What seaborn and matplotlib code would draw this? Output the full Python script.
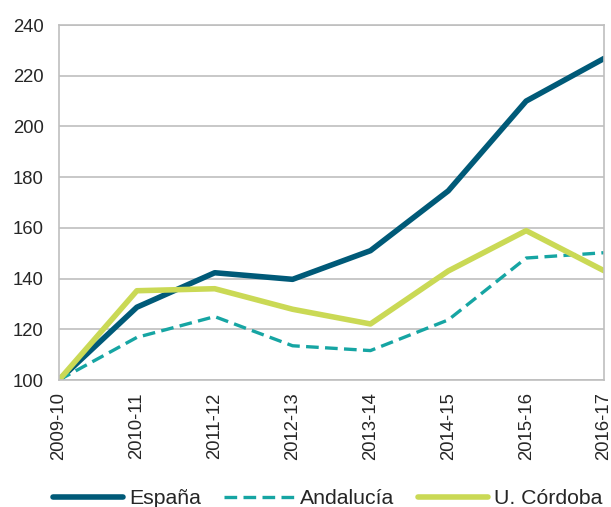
#Line chart of enrolment index (2009-10 = 100) for España, Andalucía and U. Córdoba
import pandas as pd
import matplotlib.pyplot as plt
import seaborn as sns

sns.set_style("white")
plt.rcParams['font.family'] = ['Liberation Sans', 'DejaVu Sans']

#Data
cursos = ["2009-10", "2010-11", "2011-12", "2012-13", "2013-14", "2014-15", "2015-16", "2016-17"]
espana = [100, 128.7, 142.3, 139.7, 151, 174.6, 210, 226.8]
andalucia = [100, 116.8, 125, 113.5, 111.6, 123.7, 148.1, 150.2]
cordoba = [100, 135.2, 136, 127.9, 122.1, 143, 158.9, 143.1]

series = ["España", "Andalucía", "U. Córdoba"]
colors = {"España": "#005a78", "Andalucía": "#16a5a3", "U. Córdoba": "#cad955"}
widths = {"España": 4, "Andalucía": 2.4, "U. Córdoba": 4}
dashes = {"España": "", "Andalucía": (3.8, 1.9), "U. Córdoba": ""}

df = pd.DataFrame({"curso": cursos * 3,
                   "valor": espana + andalucia + cordoba,
                   "serie": [s for s in series for _ in cursos]})

fig = plt.figure(figsize=(6.11, 5.07), dpi=100)
ax = fig.add_axes([59 / 611, 1 - 380 / 507, 545 / 611, 355 / 507])

for s in series:
    sns.lineplot(data=df[df["serie"] == s], x="curso", y="valor", ax=ax,
                 color=colors[s], linewidth=widths[s], label=s, sort=False)
    if dashes[s]:
        ax.lines[-1].set_dashes(dashes[s])

ax.set_xlim(0, len(cursos) - 1)
ax.set_ylim(100, 240)
ax.set_yticks(range(100, 241, 20))
ax.grid(axis="y", color="#bfbfbf", linewidth=1.2)
ax.set_axisbelow(True)
for sp in ax.spines.values():
    sp.set_color("#bfbfbf")
    sp.set_linewidth(1.2)
ax.set_xlabel("")
ax.set_ylabel("")
ax.tick_params(axis="x", rotation=90, labelsize=13.3, length=0, pad=9)
ax.tick_params(axis="y", labelsize=13.3, length=0, pad=11)
for lab in ax.get_xticklabels():
    lab.set_verticalalignment("top")

handles, labels = ax.get_legend_handles_labels()
ax.get_legend().remove()
fig.legend(handles, labels, loc="lower center", bbox_to_anchor=(0.536, -0.04), ncol=3,
           frameon=False, fontsize=15.3, handlelength=3.3, handletextpad=0.28,
           columnspacing=1.1)

fig.savefig("out.png", dpi=100)
